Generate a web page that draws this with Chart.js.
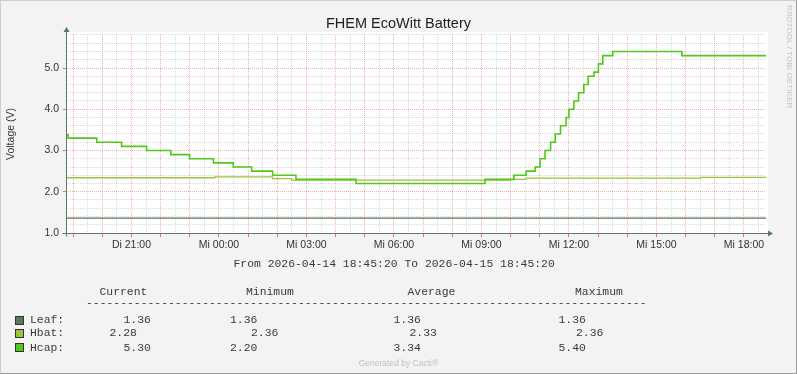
<!DOCTYPE html>
<html>
<head>
<meta charset="utf-8">
<script src="https://cdn.jsdelivr.net/npm/chart.js@4/dist/chart.umd.min.js"></script>
<style>
  html, body { margin: 0; padding: 0; background: #f3f3f3; }
  #wrap { position: relative; width: 797px; height: 374px; background: #f3f3f3; overflow: hidden; }
  #chart { position: absolute; left: 0; top: 0; }
  #frame { position: absolute; left: 0; top: 0; width: 797px; height: 374px; box-sizing: border-box;
    border-top: 1px solid #cfcfcf; border-left: 1px solid #cfcfcf;
    border-right: 1px solid #9c9c9c; border-bottom: 1px solid #9c9c9c; pointer-events: none; }
  .mono { position: absolute; font-family: "Liberation Mono", monospace; font-size: 11.4px;
    line-height: 14px; color: #3a3a3a; white-space: pre; }
  .sq { position: absolute; width: 9px; height: 9px; box-sizing: border-box; border: 1px solid #333; }
  #brand { position: absolute; left: 785px; top: 5px; writing-mode: vertical-rl;
    font-family: "Liberation Sans", sans-serif; font-size: 8px; color: #c4c4c4; letter-spacing: 0.1px; }
  #cacti { position: absolute; left: 0; width: 797px; top: 358px; text-align: center;
    font-family: "Liberation Sans", sans-serif; font-size: 8.5px; color: #c0c0c0; }
</style>
</head>
<body>
<div id="wrap">
  <canvas id="chart" width="797" height="374"></canvas>
  <div id="legend"></div>
  <div id="brand">RRDTOOL / TOBI OETIKER</div>
  <div id="cacti">Generated by Cacti®</div>
  <div id="frame"></div>
</div>
<script>
// time axis in clock hours (Di 00:00 = 0, Mi 00:00 = 24)
const startHour = 18.7556; // 2026-04-14 18:45:20
const endHour = 42.7556;   // 2026-04-15 18:45:20

const labelHours = [21, 24, 27, 30, 33, 36, 39, 42];
const labelTexts = ["Di 21:00", "Mi 00:00", "Mi 03:00", "Mi 06:00", "Mi 09:00", "Mi 12:00", "Mi 15:00", "Mi 18:00"];

const seriesNames = ["Leaf", "Hbat", "Hcap"];
const seriesColors = ["#587858", "#9dc43a", "#50c81c"];

// Leaf battery
const leafHours = [18.756, 42.756];
const leafVolts = [1.36, 1.36];

// Hbat battery
const hbatHours = [18.756, 23.86, 25.84, 26.49, 33.98, 34.53, 40.52, 42.756];
const hbatVolts = [2.34, 2.36, 2.32, 2.28, 2.30, 2.33, 2.35, 2.35];

// Hcap supercap
const hcapHours = [18.756, 18.83, 19.81, 20.66, 21.52, 22.35, 22.99, 23.81, 24.49, 25.12, 25.84, 26.64,
  28.70, 33.12, 34.11, 34.53, 34.84, 35.01, 35.18, 35.37, 35.53, 35.71, 35.90, 36.00, 36.17, 36.33,
  36.51, 36.66, 36.86, 37.01, 37.16, 37.50, 39.87, 42.756];
const hcapVolts = [3.38, 3.30, 3.20, 3.10, 3.00, 2.90, 2.80, 2.70, 2.60, 2.50, 2.40, 2.30,
  2.20, 2.30, 2.40, 2.50, 2.60, 2.80, 3.00, 3.20, 3.40, 3.60, 3.80, 4.00, 4.20, 4.40,
  4.60, 4.80, 4.90, 5.10, 5.30, 5.40, 5.30, 5.30];

// legend table
const colHeads = ["Current", "Minimum", "Average", "Maximum"];
const tableValues = [
  ["1.36", "1.36", "1.36", "1.36"],
  ["2.28", "2.36", "2.33", "2.36"],
  ["5.30", "2.20", "3.34", "5.40"],
];

const toPoints = (xs, ys) => xs.map((x, i) => ({ x: x, y: ys[i] }));
const isWhole = (v) => Math.abs(v - Math.round(v)) < 1e-6;

const majorGrid = "rgba(230, 80, 80, 0.45)";
const minorGrid = "rgba(140, 140, 140, 0.32)";
const axisColor = "#587a6a";

// white plot area, axis lines with arrows
const rrdFrame = {
  id: "rrdFrame",
  beforeDraw: (chart) => {
    const { ctx, chartArea: a } = chart;
    ctx.save();
    ctx.fillStyle = "#ffffff";
    ctx.fillRect(a.left, a.top - 3, a.right - a.left + 2, a.bottom - a.top + 3);
    ctx.restore();
  },
  afterDraw: (chart) => {
    const { ctx, chartArea: a } = chart;
    const x0 = Math.round(a.left) + 0.5;
    const y0 = Math.round(a.bottom) + 0.5;
    ctx.save();
    ctx.strokeStyle = axisColor;
    ctx.fillStyle = axisColor;
    ctx.lineWidth = 1;
    ctx.beginPath();
    ctx.moveTo(x0, y0 + 3);
    ctx.lineTo(x0, a.top - 3);
    ctx.moveTo(x0 - 4, y0);
    ctx.lineTo(a.right + 2, y0);
    ctx.stroke();
    ctx.beginPath();
    ctx.moveTo(x0, a.top - 8);
    ctx.lineTo(x0 - 3, a.top - 3);
    ctx.lineTo(x0 + 3, a.top - 3);
    ctx.closePath();
    ctx.fill();
    ctx.beginPath();
    ctx.moveTo(a.right + 7, y0);
    ctx.lineTo(a.right + 2, y0 - 3);
    ctx.lineTo(a.right + 2, y0 + 3);
    ctx.closePath();
    ctx.fill();
    ctx.restore();
  },
};

const datasets = [
  { label: "Hcap", data: toPoints(hcapHours, hcapVolts), borderColor: seriesColors[2], borderWidth: 1.6, order: 0 },
  { label: "Hbat", data: toPoints(hbatHours, hbatVolts), borderColor: seriesColors[1], borderWidth: 1.3, order: 1 },
  { label: "Leaf", data: toPoints(leafHours, leafVolts), borderColor: seriesColors[0], borderWidth: 1.3, order: 2 },
].map((d) => Object.assign(d, { stepped: "before", pointRadius: 0, fill: false }));

const config = {
  type: "line",
  data: { datasets: datasets },
  options: {
    responsive: false,
    animation: false,
    devicePixelRatio: 1,
    layout: { padding: 0 },
    scales: {
      x: {
        type: "linear",
        min: startHour,
        max: endHour,
        afterBuildTicks: (scale) => {
          const ticks = [];
          for (let h = 19; h <= 42.5; h += 0.5) ticks.push({ value: h });
          scale.ticks = ticks;
        },
        afterFit: (scale) => {
          scale.height = 141;
          scale.paddingLeft = 0;
          scale.paddingRight = 31;
        },
        ticks: {
          autoSkip: false,
          maxRotation: 0,
          padding: 2,
          color: "#333",
          font: { family: "Liberation Sans", size: 10.5 },
          callback: (v) => {
            const i = labelHours.indexOf(v);
            return i >= 0 ? labelTexts[i] : "";
          },
        },
        grid: {
          color: (c) => (isWhole(c.tick.value) ? majorGrid : minorGrid),
          tickColor: (c) => (isWhole(c.tick.value) ? "rgba(220,60,60,0.7)" : "transparent"),
          tickLength: 4,
          borderDash: [1, 1],
        },
        border: { display: false, dash: [1, 1] },
      },
      y: {
        min: 1.0,
        max: 5.8,
        afterBuildTicks: (scale) => {
          const ticks = [];
          for (let i = 0; i <= 24; i++) ticks.push({ value: 1 + i * 0.2 });
          scale.ticks = ticks;
        },
        afterFit: (scale) => {
          scale.width = 66;
          scale.paddingTop = 0;
          scale.paddingBottom = 0;
        },
        title: {
          display: true,
          text: "Voltage (V)",
          color: "#333",
          font: { family: "Liberation Sans", size: 10.5 },
          padding: { top: 5, bottom: 0 },
        },
        ticks: {
          autoSkip: false,
          padding: 4,
          color: "#333",
          font: { family: "Liberation Sans", size: 10.5 },
          callback: (v) => (isWhole(v) ? Math.round(v).toFixed(1) : ""),
        },
        grid: {
          color: (c) => (isWhole(c.tick.value) ? majorGrid : minorGrid),
          tickColor: (c) => (isWhole(c.tick.value) ? "rgba(220,60,60,0.7)" : "transparent"),
          tickLength: 3,
          borderDash: [1, 1],
        },
        border: { display: false, dash: [1, 1] },
      },
    },
    plugins: {
      legend: { display: false },
      tooltip: { enabled: false },
      title: {
        display: true,
        text: "FHEM EcoWitt Battery",
        color: "#1e1e1e",
        font: { family: "Liberation Sans", size: 14.5, weight: "normal" },
        padding: { top: 15, bottom: 2.6 },
      },
    },
  },
  plugins: [rrdFrame],
};

new Chart(document.getElementById("chart").getContext("2d"), config);

// text legend below the graph
const legend = document.getElementById("legend");
function addText(txt, left, top) {
  const el = document.createElement("div");
  el.className = "mono";
  el.textContent = txt;
  el.style.left = left + "px";
  el.style.top = top + "px";
  legend.appendChild(el);
}
addText("From 2026-04-14 18:45:20 To 2026-04-15 18:45:20", 233.5, 256.5);

const headLeft = [99.5, 246, 407.5, 575];
colHeads.forEach((h, i) => addText(h, headLeft[i], 284.5));
addText("-".repeat(82), 86, 296.3);

const rowTops = [312.5, 326.3, 340.6];
const squareTops = [315.5, 329.2, 343.4];
const valueLeft = [
  [123.5, 230, 393.5, 558.5],
  [109.5, 251, 409.5, 576],
  [123.5, 230, 393.5, 558.5],
];
seriesNames.forEach((name, r) => {
  const sq = document.createElement("div");
  sq.className = "sq";
  sq.style.left = "15px";
  sq.style.top = squareTops[r] + "px";
  sq.style.background = seriesColors[r];
  legend.appendChild(sq);
  addText(name + ":", 30, rowTops[r]);
  tableValues[r].forEach((v, c) => addText(v, valueLeft[r][c], rowTops[r]));
});
</script>
</body>
</html>
